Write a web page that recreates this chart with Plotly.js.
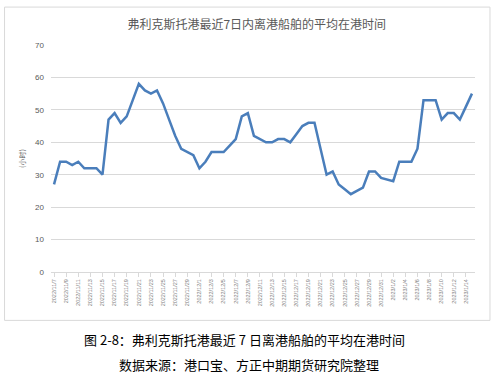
<!DOCTYPE html>
<html>
<head>
<meta charset="utf-8">
<script src="https://cdn.plot.ly/plotly-3.0.1.min.js"></script>
<style>
html,body{margin:0;padding:0;background:#fff;}
#chart{width:497px;height:375px;}
</style>
</head>
<body>
<div id="chart"></div>
<script>
const dates = [
"2022/11/7","2022/11/8","2022/11/9","2022/11/10","2022/11/11","2022/11/12","2022/11/13","2022/11/14","2022/11/15","2022/11/16",
"2022/11/17","2022/11/18","2022/11/19","2022/11/20","2022/11/21","2022/11/22","2022/11/23","2022/11/24","2022/11/25","2022/11/26",
"2022/11/27","2022/11/28","2022/11/29","2022/11/30","2022/12/1","2022/12/2","2022/12/3","2022/12/4","2022/12/5","2022/12/6",
"2022/12/7","2022/12/8","2022/12/9","2022/12/10","2022/12/11","2022/12/12","2022/12/13","2022/12/14","2022/12/15","2022/12/16",
"2022/12/17","2022/12/18","2022/12/19","2022/12/20","2022/12/21","2022/12/22","2022/12/23","2022/12/24","2022/12/25","2022/12/26",
"2022/12/27","2022/12/28","2022/12/29","2022/12/30","2022/12/31","2023/1/1","2023/1/2","2023/1/3","2023/1/4","2023/1/5",
"2023/1/6","2023/1/7","2023/1/8","2023/1/9","2023/1/10","2023/1/11","2023/1/12","2023/1/13","2023/1/14","2023/1/15"
];
const hours = [
27,34,34,33,34,32,32,32,30,47,
49,46,48,53,58,56,55,56,52,47,
42,38,37,36,32,34,37,37,37,39,
41,48,49,42,41,40,40,41,41,40,
42.5,45,46,46,38,30,31,27,25.5,24,
25,26,31,31,29,28.5,28,34,34,34,
38,53,53,53,47,49,49,47,51,55
];
const tickLabels = [
"2022/11/7","2022/11/9","2022/11/11","2022/11/13","2022/11/15","2022/11/17","2022/11/19","2022/11/21","2022/11/23","2022/11/25",
"2022/11/27","2022/11/29","2022/12/1","2022/12/3","2022/12/5","2022/12/7","2022/12/9","2022/12/11","2022/12/13","2022/12/15",
"2022/12/17","2022/12/19","2022/12/21","2022/12/23","2022/12/25","2022/12/27","2022/12/29","2022/12/31","2023/1/2","2023/1/4",
"2023/1/6","2023/1/8","2023/1/10","2023/1/12","2023/1/14"
];
const titleText = "弗利克斯托港最近7日内离港船舶的平均在港时间";
const yTitle = "(小时)";
const caption1 = "图 2-8：弗利克斯托港最近 7 日离港船舶的平均在港时间";
const caption2 = "数据来源：港口宝、方正中期期货研究院整理";

const L=51, R=21.5, T=45, B=102.5, W=497, H=375;
const pw=W-L-R, ph=H-T-B;
const px = x => (x-L)/pw;
const py = y => (H-B-y)/ph;

const trace = {
  x: dates, y: hours, type: 'scatter', mode: 'lines',
  line: {color: '#4a7ebb', width: 2.5},
  hoverinfo: 'skip'
};

const layout = {
  width: W, height: H,
  margin: {l: L, r: R, t: T, b: B, pad: 0},
  paper_bgcolor: '#ffffff', plot_bgcolor: '#ffffff',
  showlegend: false,
  font: {family: '"Noto Sans CJK SC", "Liberation Sans", sans-serif', color: '#595959'},
  xaxis: {
    type: 'category',
    categoryorder: 'array', categoryarray: dates,
    range: [-0.5, dates.length - 0.5],
    tickmode: 'array', tickvals: tickLabels, ticktext: tickLabels,
    tickangle: -90,
    tickfont: {size: 5.5, color: '#7f7f7f', family: '"Liberation Sans", sans-serif'},
    ticks: 'outside', ticklen: 4, tickcolor: '#d9d9d9', tickwidth: 1,
    showgrid: false, zeroline: false,
    showline: true, linecolor: '#d9d9d9', linewidth: 1,
    fixedrange: true
  },
  yaxis: {
    range: [0, 70], dtick: 10, tick0: 0,
    showgrid: true, gridcolor: '#d9d9d9', gridwidth: 1,
    zeroline: false, showline: false, ticks: '',
    tickfont: {size: 8, color: '#595959', family: '"Liberation Sans", sans-serif'},
    ticklabelstandoff: 6,
    title: {text: yTitle, font: {size: 7, color: '#595959'}, standoff: 8},
    fixedrange: true
  },
  title: {
    text: titleText,
    font: {size: 12, color: '#595959'},
    x: px(257), xref: 'paper', xanchor: 'center',
    y: 1 - 25/H, yref: 'container', yanchor: 'middle'
  },
  shapes: [{
    type: 'rect', xref: 'paper', yref: 'paper',
    x0: px(4.5), x1: px(490.5), y0: py(321), y1: py(7),
    line: {color: '#d9d9d9', width: 1}, fillcolor: 'rgba(0,0,0,0)', layer: 'below'
  }],
  annotations: [
    {text: caption1, xref: 'paper', yref: 'paper', x: px(245), y: py(340),
     xanchor: 'center', yanchor: 'middle', showarrow: false,
     font: {size: 13, color: '#000000'}},
    {text: caption2, xref: 'paper', yref: 'paper', x: px(249), y: py(365),
     xanchor: 'center', yanchor: 'middle', showarrow: false,
     font: {size: 13, color: '#000000'}}
  ]
};

Plotly.newPlot('chart', [trace], layout, {displayModeBar: false, staticPlot: true});
</script>
</body>
</html>
